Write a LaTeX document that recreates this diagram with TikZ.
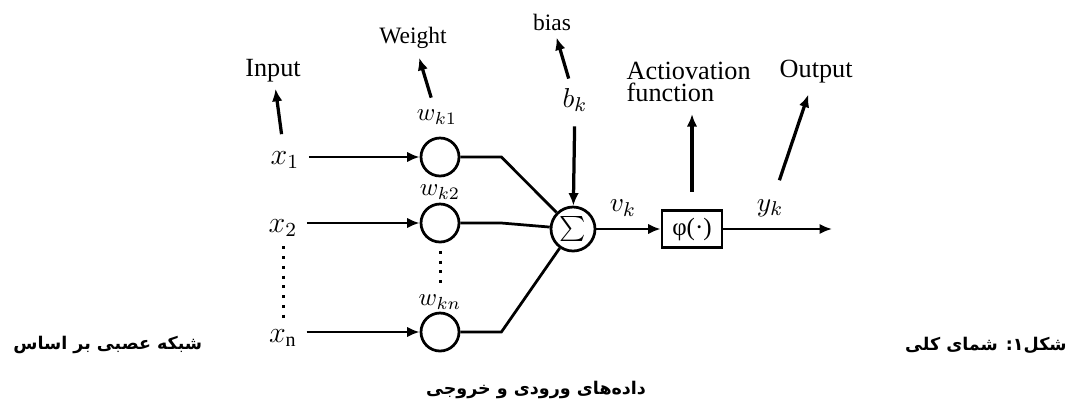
\documentclass[tikz,border=0pt]{standalone}
\usepackage{fontspec}
\setmainfont{Liberation Serif}
\newfontfamily\arabicfont[Script=Arabic]{DejaVu Sans}
\TeXXeTstate=1
\usetikzlibrary{arrows.meta,positioning}

\begin{document}
\begin{tikzpicture}[x=0.4pt,y=-0.4pt,>={Latex[length=5pt,width=4.2pt]},line width=1.1pt]

        \tikzstyle{weight}=[circle,draw,minimum size=15.2pt,inner sep=0pt]
        \tikzstyle{adder}=[circle,draw,minimum size=17.6pt,inner sep=0pt]
        \tikzstyle{actbox}=[rectangle,draw,minimum width=24pt,minimum height=14.8pt,inner sep=1pt]
        \tikzstyle{bigtext}=[font=\fontsize{10.5}{9}\selectfont]
        \tikzstyle{smalltext}=[font=\fontsize{9.4}{10}\selectfont]
        \tikzstyle{xvar}=[font=\fontsize{12}{14}\selectfont]
        \tikzstyle{wvar}=[font=\fontsize{10}{12}\selectfont]
        \tikzstyle{svar}=[font=\fontsize{11}{12}\selectfont]
        \tikzstyle{caption}=[font=\arabicfont\bfseries\fontsize{7}{9}\selectfont,inner sep=0pt]
        \tikzstyle{dots}=[line width=1.2pt,dash pattern=on 1.2pt off 2.7pt]
        \tikzstyle{pointer}=[->,line width=1.3pt]

        \useasboundingbox (0,0) rectangle (1070,403);

        % inputs and weights
        \node[xvar]   (x1) at (285,160) {$x_1$};
        \node[xvar]   (x2) at (283,228) {$x_2$};
        \node[xvar]   (xn) at (283,338) {$x_{\mathrm{n}}$};
        \node[weight] (w1) at (440,157) {};
        \node[weight] (w2) at (440,223) {};
        \node[weight] (wn) at (440,332) {};
        \node[wvar]   (wk1) at (437,117) {$w_{k1}$};
        \node[wvar]   (wk2) at (440,192) {$w_{k2}$};
        \node[wvar]   (wkn) at (440,302) {$w_{kn}$};

        % adder and activation
        \node[adder]  (sum) at (573,229) {$\sum$};
        \node[actbox] (phi) at (692,229) {φ(·)};
        \node[svar]   (bk)  at (575,100) {$b_k$};
        \node[svar]   (vk)  at (623,208) {$v_k$};
        \node[svar]   (yk)  at (770,208) {$y_k$};
        \coordinate   (out) at (832,229);

        % names
        \node[bigtext,anchor=base] (input) at (273,76) {Input};
        \node[smalltext,anchor=base] (weightname) at (413,43) {Weight};
        \node[smalltext,anchor=base] (biasname) at (552,30) {bias};
        \node[bigtext,anchor=north west,align=left] (act) at (617,52) {Actiovation\\function};
        \node[bigtext,anchor=base west] (output) at (770,77) {Output};

        % caption
        \node[caption,anchor=east] (cap1) at (1068,345) {\beginR شکل۱: شمای کلی\endR};
        \node[caption,anchor=west] (cap2) at (12,345) {\beginR شبکه عصبی بر اساس\endR};
        \node[caption] (cap3) at (536,390) {\beginR داده‌های ورودی و خروجی\endR};

        \draw[->] (x1.east |- w1.west) -- (w1.west);
        \draw[->] (x2.east |- w2.west) -- (w2.west);
        \draw[->] (xn.east |- wn.west) -- (wn.west);
        \draw[dots] (x2) -- (xn);
        \draw[dots,shorten <=3pt] (w2) -- (wkn);

        \draw (w1.east) -- ++(41,0) -- (sum);
        \draw (w2.east) -- ++(41,0) -- (sum);
        \draw (wn.east) -- ++(41,0) -- (sum);
        \draw[pointer,shorten <=2pt] (bk) -- (sum);
        \draw[->] (sum) -- (phi);
        \draw[->] (phi) -- (out);

        \draw[pointer,shorten <=3pt,shorten >=-1pt] (x1) -- (input);
        \draw[pointer,shorten <=1pt] (wk1) -- (weightname);
        \draw[pointer,shorten <=0pt,shorten >=-1pt] (bk) -- (biasname);
        \draw[pointer,shorten <=7pt,shorten >=1pt] (phi.north) -- (phi.north |- act.south);
        \draw[pointer,shorten <=4pt,shorten >=1pt] (yk) -- (output);

    \end{tikzpicture}
\end{document}
